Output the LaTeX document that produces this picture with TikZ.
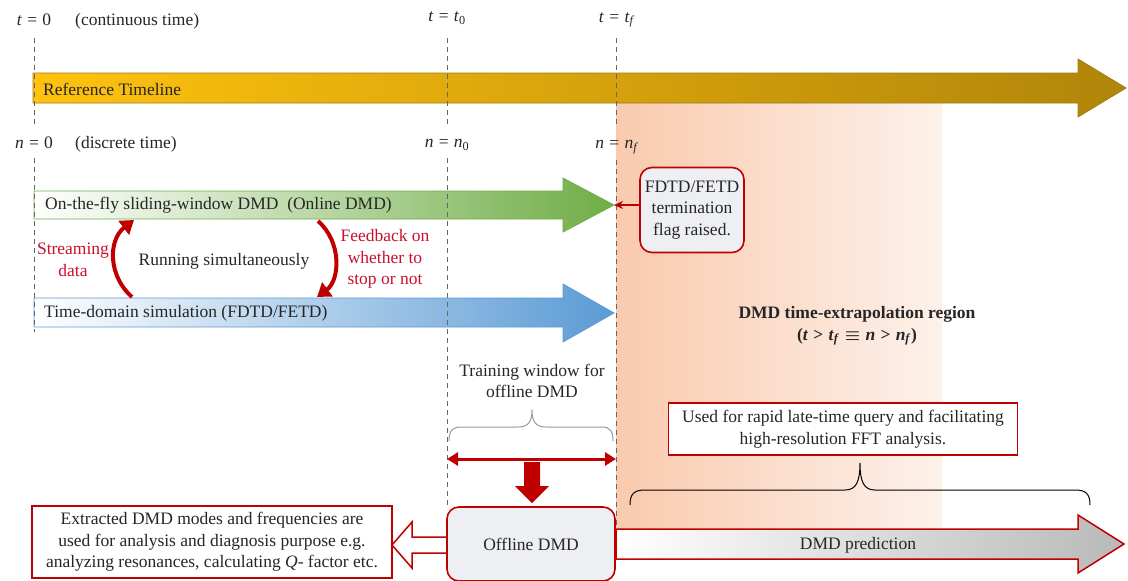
\documentclass[tikz,border=0pt]{standalone}
\usepackage{fontspec}
\setmainfont{Liberation Serif}
\usetikzlibrary{arrows.meta}
\definecolor{dred}{HTML}{C00000}
\definecolor{lred}{HTML}{C8102E}
\definecolor{txt}{HTML}{262626}
\definecolor{gold1}{HTML}{FFC20E}
\definecolor{goldm}{HTML}{F2B405}
\definecolor{gold2}{HTML}{B0850A}
\definecolor{goldline}{HTML}{A07C10}
\definecolor{grn}{HTML}{70AD47}
\definecolor{blu}{HTML}{5B9BD5}
\definecolor{peach}{HTML}{F9CAAE}
\definecolor{peachend}{HTML}{FDF1EA}
\definecolor{boxfill}{HTML}{EDEFF2}
\newcommand{\mv}[1]{\textit{#1}}
\newcommand{\rel}[1]{\hspace{0.3em}#1\hspace{0.3em}}
\newcommand{\eqs}{\rel{=}}
\tikzset{
  lbl/.style={font=\fontsize{17.5}{21.5}\selectfont, text=txt, inner sep=1pt},
  vdash/.style={draw=gray!80!black, line width=0.8pt, dash pattern=on 5pt off 4pt},
  curvarrow/.style={draw=dred, line width=4pt, -{Triangle[length=13pt,width=17pt]}},
  redbox/.style={lbl, draw=dred, line width=1.6pt, align=center},
}
\begin{document}
\begin{tikzpicture}[x=1pt,y=-1pt]
\useasboundingbox (0,0) rectangle (1128,581);

% extrapolation region
\fill[left color=peach, right color=peachend] (616,103) rectangle (942,528);

% reference timeline
\draw[goldline, line width=0.8pt, left color=gold1, middle color=goldm, right color=gold2]
  (33,73) -- (1078,73) -- (1078,59) -- (1126,88) -- (1078,117) -- (1078,103) -- (33,103) -- cycle;
\node[lbl, anchor=west] (reftl) at (42,89) {Reference Timeline};

% green arrow
\draw[grn, line width=0.8pt, left color=white, right color=grn]
  (34,191) -- (563,191) -- (563,178) -- (614,205) -- (563,232) -- (563,219) -- (34,219) -- cycle;
\coordinate (gtip) at (614,205);
\node[lbl, anchor=west] (online) at (44,205) {On-the-fly sliding-window DMD\ \ (Online DMD)};

% blue arrow
\draw[blu, line width=0.8pt, left color=white, right color=blu]
  (34,298) -- (563,298) -- (563,284) -- (614,313) -- (563,342) -- (563,327) -- (34,327) -- cycle;
\node[lbl, anchor=west] (sim) at (43,313) {Time-domain simulation (FDTD/FETD)};

% dashed time markers
\draw[vdash] (34,38) -- (34,128);
\draw[vdash] (34,158) -- (34,332);
\draw[vdash] (447,38) -- (447,128);
\draw[vdash] (447,158) -- (447,508);
\draw[vdash] (616,38) -- (616,128);
\draw[vdash] (616,160) -- (616,528);

% top labels
\node[lbl] (t0) at (34,20) {\mv{t}\eqs0};
\node[lbl, anchor=west] (ct) at (74,21) {(continuous time)};
\node[lbl] (tt0) at (447,18) {\mv{t}\eqs\mv{t}\textsubscript{0}};
\node[lbl] (ttf) at (617,20) {\mv{t}\eqs\mv{t}\textsubscript{\mv{f}}};
\node[lbl] (n0) at (34,143) {\mv{n}\eqs0};
\node[lbl, anchor=west] (dt) at (74,144) {(discrete time)};
\node[lbl] (nn0) at (447,145) {\mv{n}\eqs\mv{n}\textsubscript{0}};
\node[lbl] (nnf) at (617,147) {\mv{n}\eqs\mv{n}\textsubscript{\mv{f}}};

% curved arrows
\coordinate (sa) at (132,297);
\coordinate (sb) at (134,220);
\draw[curvarrow] (sa) .. controls (108,276) and (108,240) .. (sb);
\coordinate (fa) at (318,221);
\coordinate (fb) at (317,297);
\draw[curvarrow] (fa) .. controls (342,242) and (340,280) .. (fb);
\node[lbl, text=lred, align=center] (stream) at (73,260) {Streaming\\data};
\node[lbl] (run) at (224,261) {Running simultaneously};
\node[lbl, text=lred, align=center] (feed) at (385,259) {Feedback on\\whether to\\stop or not};

% termination flag
\node[redbox, rounded corners=12pt, fill=boxfill, minimum width=104pt, minimum height=85pt] (flag) at (692,210)
  {FDTD/FETD\\termination\\flag raised.};
\draw[dred, line width=1.5pt, -{Stealth[length=9pt,width=8pt]}] (flag.west |- gtip) -- (gtip);

% region label
\node[lbl, align=center] (region) at (857,326)
  {\textbf{DMD time-extrapolation region}\\\textbf{(\mv{t}\rel{>}\mv{t}\textsubscript{\mv{f}}\rel{\boldmath$\equiv$}\mv{n}\rel{>}\mv{n}\textsubscript{\mv{f}})}};

% training window
\node[lbl, align=center] (train) at (532,381) {Training window for\\offline DMD};
\draw[gray!80, line width=1pt] (449,441) .. controls (449,431) and (452,427) .. (462,427) -- (518,427)
  .. controls (528,427) and (532,422) .. (532,410) .. controls (532,422) and (536,427) .. (546,427)
  -- (602,427) .. controls (610,427) and (613,431) .. (613,441);
\coordinate (tw0) at (447,459);
\coordinate (tw1) at (616,459);
\draw[dred, line width=3pt, {Triangle[length=11pt,width=13pt]}-{Triangle[length=11pt,width=13pt]}] (tw0) -- (tw1);
\fill[dred] (524,462) -- (540,462) -- (540,486) -- (549,486) -- (532,503) -- (515,486) -- (524,486) -- cycle;

% DMD prediction arrow
\draw[dred, line width=1.5pt, left color=white, right color=gray!55]
  (616,529) -- (1078,529) -- (1078,515) -- (1124,544) -- (1078,573) -- (1078,559) -- (616,559) -- cycle;
\node[lbl] (pred) at (858,545) {DMD prediction};

% used box and brace
\node[redbox, fill=white, minimum width=349pt, minimum height=52pt] (used) at (843,429)
  {Used for rapid late-time query and facilitating\\high-resolution FFT analysis.};
\draw[black, line width=1pt] (630,505) .. controls (630,494) and (634,490) .. (645,490) -- (845,490)
  .. controls (856,490) and (860,482) .. (860,463) .. controls (860,482) and (864,490) .. (875,490)
  -- (1075,490) .. controls (1086,490) and (1090,494) .. (1090,505);

% hollow arrow
\draw[dred, line width=1.5pt, fill=white]
  (450,537) -- (412,537) -- (412,522) -- (392,545) -- (412,568) -- (412,553) -- (450,553);

% offline DMD
\node[redbox, rounded corners=12pt, fill=boxfill, minimum width=168pt, minimum height=74pt] (off) at (531,544) {Offline DMD};

% extracted box
\node[redbox, fill=white, minimum width=360pt, minimum height=72pt] (ext) at (212,542)
  {Extracted DMD modes and frequencies are\\used for analysis and diagnosis purpose e.g.\\analyzing resonances, calculating \mv{Q}- factor etc.};
\end{tikzpicture}
\end{document}
